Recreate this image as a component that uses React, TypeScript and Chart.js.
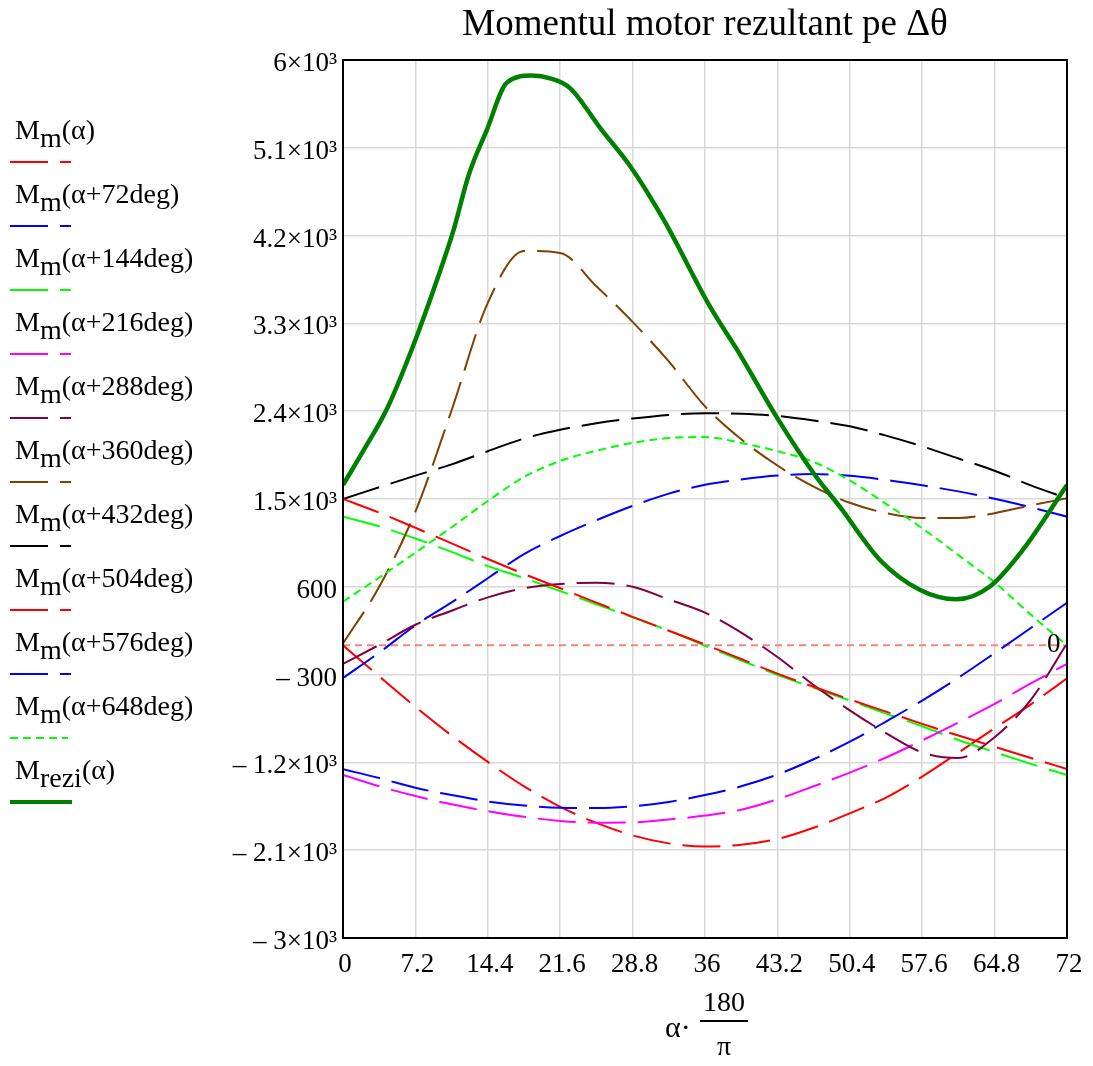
import React, { useEffect, useRef } from "react";
import { Chart, registerables } from "chart.js";

Chart.register(...registerables);

// ---- data ----
const alphaDeg = [0, 3.6, 7.2, 10.8, 14.4, 18, 21.6, 25.2, 28.8, 32.4, 36, 39.6, 43.2, 46.8, 50.4, 54, 57.6, 61.2, 64.8, 68.4, 72];

const mm0 = [0, -318, -630, -925, -1195, -1445, -1655, -1820, -1948, -2030, -2062, -2045, -1985, -1870, -1722, -1560, -1345, -1100, -850, -605, -338];
const mm72 = [-335, -75, 205, 440, 688, 936, 1121, 1282, 1429, 1555, 1645, 1700, 1740, 1755, 1738, 1695, 1640, 1578, 1502, 1415, 1319];
const mm144 = [1319, 1220, 1095, 958, 812, 690, 556, 421, 286, 150, -5, -155, -303, -435, -565, -700, -830, -970, -1095, -1215, -1329];
const mm216 = [-1329, -1445, -1545, -1630, -1700, -1758, -1800, -1818, -1815, -1785, -1745, -1685, -1578, -1445, -1305, -1150, -975, -792, -600, -390, -191];
const mm288 = [-191, 5, 211, 355, 492, 585, 628, 642, 600, 470, 335, 130, -120, -407, -667, -900, -1098, -1155, -942, -560, 20];
const mm360 = [20, 600, 1370, 2410, 3510, 4042, 4022, 3680, 3316, 2910, 2450, 2113, 1843, 1626, 1461, 1355, 1305, 1305, 1355, 1435, 1507];
const mm432 = [1500, 1620, 1740, 1855, 1990, 2120, 2210, 2276, 2325, 2362, 2379, 2374, 2352, 2305, 2245, 2150, 2040, 1915, 1790, 1640, 1507];
const mm504 = [1500, 1360, 1205, 1045, 885, 732, 585, 438, 292, 150, 8, -140, -290, -425, -555, -680, -805, -925, -1040, -1155, -1267];
const mm576 = [-1270, -1360, -1460, -1535, -1600, -1642, -1665, -1668, -1650, -1605, -1535, -1445, -1325, -1168, -988, -781, -566, -332, -80, 178, 437];
const mm648 = [448, 695, 950, 1210, 1480, 1725, 1890, 1995, 2075, 2125, 2135, 2075, 1990, 1880, 1690, 1450, 1200, 925, 645, 315, 0];

const mreziAlpha = [0, 2, 4.4, 6.9, 9.7, 11, 12.5, 14.3, 16.3, 18.8, 20.6, 22.6, 25.6, 28.6, 31.9, 36.5, 39.2, 43.1, 46.8, 49.4, 53.4, 57.4, 61, 64.3, 67.6, 72];
const mreziVals = [1644, 1990, 2430, 3050, 3850, 4258, 4821, 5282, 5768, 5840, 5812, 5710, 5300, 4906, 4360, 3471, 3028, 2344, 1764, 1421, 875, 567, 472, 601, 978, 1644];

const xTicks = [0, 7.2, 14.4, 21.6, 28.8, 36, 43.2, 50.4, 57.6, 64.8, 72];
const xTickLabels = ["0", "7.2", "14.4", "21.6", "28.8", "36", "43.2", "50.4", "57.6", "64.8", "72"];
const yTicks = [6000, 5100, 4200, 3300, 2400, 1500, 600, -300, -1200, -2100, -3000];
const yTickLabels = ["6×10³", "5.1×10³", "4.2×10³", "3.3×10³", "2.4×10³", "1.5×10³", "600", "– 300", "– 1.2×10³", "– 2.1×10³", "– 3×10³"];

const seriesArgs = ["(α)", "(α+72deg)", "(α+144deg)", "(α+216deg)", "(α+288deg)", "(α+360deg)", "(α+432deg)", "(α+504deg)", "(α+576deg)", "(α+648deg)"];
const seriesValues = [mm0, mm72, mm144, mm216, mm288, mm360, mm432, mm504, mm576, mm648];
const seriesColors = ["#ff0000", "#0000ff", "#00ff00", "#ff00ff", "#800040", "#804000", "#000000", "#ff0000", "#0000ff", "#00ff00"];
const seriesDashes = [[38, 12], [38, 12], [38, 12], [38, 12], [38, 12], [38, 12], [38, 12], [38, 12], [38, 12], [8, 5]];

const FONT = "'Liberation Serif', 'Times New Roman', serif";

const framePlugin = {
  id: "frame",
  afterDraw(chart: any) {
    const { ctx, chartArea } = chart;
    const { left, top, right, bottom } = chartArea;
    ctx.save();
    ctx.strokeStyle = "#000";
    ctx.lineWidth = 2;
    ctx.strokeRect(left, top, right - left, bottom - top);
    ctx.restore();
  },
};

export default function App() {
  const canvasRef = useRef<HTMLCanvasElement | null>(null);

  useEffect(() => {
    if (!canvasRef.current) return;
    const datasets: any[] = [];
    datasets.push({
      label: "zero",
      data: [{ x: 0, y: 0 }, { x: 72, y: 0 }],
      borderColor: "#ff8080",
      borderWidth: 2,
      borderDash: [7, 5],
      pointRadius: 0,
      order: 100,
    });
    seriesValues.forEach((vals, i) => {
      datasets.push({
        label: "Mm" + seriesArgs[i],
        data: alphaDeg.map((a, j) => ({ x: a, y: vals[j] })),
        borderColor: seriesColors[i],
        borderWidth: 2,
        borderDash: seriesDashes[i],
        pointRadius: 0,
        cubicInterpolationMode: "monotone",
        order: 50 - i,
      });
    });
    datasets.push({
      label: "Mrezi(α)",
      data: mreziAlpha.map((a, j) => ({ x: a, y: mreziVals[j] })),
      borderColor: "#008000",
      borderWidth: 4.5,
      pointRadius: 0,
      cubicInterpolationMode: "monotone",
      order: 0,
    });

    const chart = new Chart(canvasRef.current, {
      type: "line",
      data: { datasets },
      plugins: [framePlugin],
      options: {
        animation: false,
        responsive: false,
        maintainAspectRatio: false,
        layout: { padding: { top: 60, right: 26, bottom: 0, left: 0 } },
        plugins: {
          legend: { display: false },
          title: { display: false },
          tooltip: { enabled: false },
        },
        elements: { point: { radius: 0 } },
        scales: {
          x: {
            type: "linear",
            min: 0,
            max: 72,
            afterBuildTicks: (scale: any) => {
              scale.ticks = xTicks.map((v) => ({ value: v }));
            },
            afterFit: (scale: any) => {
              scale.height = 128;
            },
            grid: { color: "#d9d9d9", lineWidth: 1.5, drawTicks: false },
            border: { display: false },
            ticks: {
              color: "#000",
              padding: 11,
              labelOffset: 2,
              maxRotation: 0,
              autoSkip: false,
              font: { family: FONT, size: 27 },
              callback: (v: any) => {
                const idx = xTicks.findIndex((t) => Math.abs(t - v) < 1e-6);
                return idx >= 0 ? xTickLabels[idx] : "";
              },
            },
          },
          y: {
            type: "linear",
            min: -3000,
            max: 6000,
            afterBuildTicks: (scale: any) => {
              scale.ticks = yTicks.map((v) => ({ value: v }));
            },
            afterFit: (scale: any) => {
              scale.width = 343;
            },
            grid: { color: "#d9d9d9", lineWidth: 1.5, drawTicks: false },
            border: { display: false },
            ticks: {
              color: "#000",
              padding: 6,
              labelOffset: 4,
              autoSkip: false,
              font: { family: FONT, size: 27 },
              callback: (v: any) => {
                const idx = yTicks.findIndex((t) => Math.abs(t - v) < 1e-6);
                return idx >= 0 ? yTickLabels[idx] : "";
              },
            },
          },
        },
      } as any,
    });
    return () => chart.destroy();
  }, []);

  const legendLineY = (i: number) => 161.7 + 64 * i;
  const legendFont = 28;

  const legendItems = seriesArgs.map((arg, i) => {
    const y = legendLineY(i);
    const dash = seriesDashes[i];
    return (
      <React.Fragment key={i}>
        <div style={{ position: "absolute", left: 15, top: y - 47, fontFamily: FONT, fontSize: legendFont, lineHeight: "30px", whiteSpace: "nowrap", color: "#000" }}>
          M<span style={{ position: "relative", top: 8 }}>m</span>{arg}
        </div>
        <svg style={{ position: "absolute", left: 0, top: y - 3 }} width={80} height={6}>
          <line x1={10} y1={3} x2={i === 9 ? 68 : 71} y2={3} stroke={seriesColors[i]} strokeWidth={2} strokeDasharray={dash.join(" ")} />
        </svg>
      </React.Fragment>
    );
  });

  const mreziY = legendLineY(10);

  return (
    <div style={{ position: "absolute", left: 0, top: 0, width: 1093, height: 1066, background: "#fff", overflow: "hidden" }}>
      <canvas ref={canvasRef} width={1093} height={1066} style={{ position: "absolute", left: 0, top: 0, width: 1093, height: 1066 }} />
      <div style={{ position: "absolute", left: 343, top: 2, width: 724, textAlign: "center", fontFamily: FONT, fontSize: 37, lineHeight: "42px", color: "#000", whiteSpace: "nowrap" }}>
        Momentul motor rezultant pe Δθ
      </div>
      {legendItems}
      <div style={{ position: "absolute", left: 15, top: mreziY - 47, fontFamily: FONT, fontSize: legendFont, lineHeight: "30px", whiteSpace: "nowrap", color: "#000" }}>
        M<span style={{ position: "relative", top: 8 }}>rezi</span>(α)
      </div>
      <svg style={{ position: "absolute", left: 0, top: mreziY - 4 }} width={80} height={8}>
        <line x1={10} y1={4} x2={72} y2={4} stroke="#008000" strokeWidth={4} />
      </svg>
      <div style={{ position: "absolute", left: 1047, top: 630, fontFamily: FONT, fontSize: 27, lineHeight: "27px", color: "#000" }}>0</div>
      <div style={{ position: "absolute", left: 665, top: 1012, fontFamily: FONT, fontSize: 30, lineHeight: "30px", color: "#000" }}>α·</div>
      <div style={{ position: "absolute", left: 700, top: 987, width: 48, textAlign: "center", fontFamily: FONT, fontSize: 28, lineHeight: "30px", color: "#000" }}>180</div>
      <div style={{ position: "absolute", left: 700, top: 1020, width: 48, height: 0, borderTop: "2px solid #000" }} />
      <div style={{ position: "absolute", left: 700, top: 1031, width: 48, textAlign: "center", fontFamily: FONT, fontSize: 28, lineHeight: "30px", color: "#000" }}>π</div>
    </div>
  );
}
